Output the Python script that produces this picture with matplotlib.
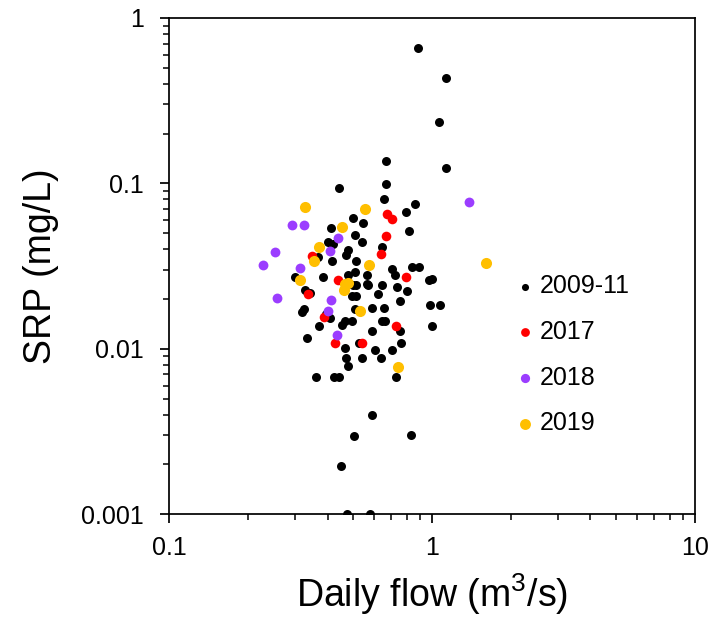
import matplotlib
matplotlib.use('Agg')
import matplotlib.pyplot as plt

plt.rcParams['font.family'] = ['Liberation Sans', 'DejaVu Sans']
plt.rcParams['mathtext.fontset'] = 'custom'
plt.rcParams['mathtext.rm'] = 'Liberation Sans'
plt.rcParams['mathtext.it'] = 'Liberation Sans'

# 2009-11 samples: daily flow (m3/s), SRP (mg/L)
flow_0911 = [0.887, 1.127, 1.064, 1.127, 0.670, 0.665, 0.444, 0.658, 0.860, 0.797,
             0.499, 0.545, 0.411, 0.815, 0.508, 0.542, 0.403, 0.421, 0.643, 0.478,
             0.470, 0.415, 0.513, 0.369, 0.702, 0.722, 0.835, 0.894, 0.385, 0.480,
             0.508, 0.563, 0.996, 0.975, 0.301, 0.328, 0.342, 0.500, 0.515, 0.563,
             0.570, 0.643, 0.732, 0.800, 0.494, 0.515, 0.620, 0.755, 0.982, 1.072,
             0.326, 0.320, 0.395, 0.410, 0.508, 0.588, 0.658, 0.662, 0.643, 0.465,
             0.494, 0.452, 0.371, 0.755, 1.000, 0.590, 0.333, 0.525, 0.764, 0.465,
             0.472, 0.480, 0.606, 0.637, 0.705, 0.542, 0.727, 0.363, 0.424, 0.442,
             0.589, 0.506, 0.833, 0.448, 0.476, 0.580]
srp_0911 = [0.658, 0.435, 0.236, 0.124, 0.136, 0.099, 0.094, 0.081, 0.075, 0.0675,
            0.062, 0.058, 0.0535, 0.0516, 0.049, 0.0445, 0.0445, 0.043, 0.0415, 0.0396,
            0.037, 0.034, 0.034, 0.036, 0.0304, 0.0281, 0.0313, 0.0313, 0.0273, 0.028,
            0.029, 0.028, 0.0265, 0.0262, 0.0273, 0.0228, 0.0218, 0.0244, 0.0244, 0.0248,
            0.0244, 0.0244, 0.0236, 0.0225, 0.0208, 0.0208, 0.0215, 0.0195, 0.0185, 0.0185,
            0.0173, 0.0166, 0.0162, 0.0153, 0.0175, 0.0177, 0.0177, 0.0148, 0.0148, 0.0148,
            0.0148, 0.014, 0.0137, 0.0128, 0.0137, 0.0128, 0.0116, 0.0109, 0.0109, 0.0101,
            0.0088, 0.00785, 0.0099, 0.0088, 0.0099, 0.0088, 0.0068, 0.0068, 0.0068, 0.0068,
            0.00396, 0.00298, 0.003, 0.00197, 0.001, 0.001]

flow_2017 = [0.675, 0.705, 0.665, 0.637, 0.350, 0.792, 0.437, 0.336, 0.389, 0.727, 0.426, 0.542]
srp_2017 = [0.0652, 0.0608, 0.0482, 0.0373, 0.0365, 0.027, 0.026, 0.0215, 0.0155, 0.0137, 0.0109, 0.0109]

flow_2018 = [1.377, 0.292, 0.325, 0.440, 0.407, 0.253, 0.228, 0.313, 0.256, 0.412, 0.403, 0.433]
srp_2018 = [0.077, 0.0561, 0.0561, 0.047, 0.0393, 0.0386, 0.0323, 0.0307, 0.0202, 0.0198, 0.0169, 0.0121]

flow_2019 = [0.328, 0.554, 0.455, 0.372, 0.356, 0.575, 1.604, 0.314, 0.466, 0.480, 0.460, 0.531, 0.743]
srp_2019 = [0.0721, 0.0698, 0.0542, 0.0415, 0.034, 0.0323, 0.033, 0.0262, 0.0247, 0.025, 0.0228, 0.017, 0.00774]

x_ticks = [0.1, 1, 10]
x_labels = ['0.1', '1', '10']
y_ticks = [0.001, 0.01, 0.1, 1]
y_labels = ['0.001', '0.01', '0.1', '1']

fig = plt.figure(figsize=(7.19, 6.18), dpi=100)
ax = fig.add_axes([0.2355, 0.1678, 0.7311, 0.8031])

ax.scatter(flow_0911, srp_0911, s=42, color='black', linewidths=0, label='2009-11', zorder=2)
ax.scatter(flow_2017, srp_2017, s=48, color='#FF0000', linewidths=0, label='2017', zorder=3)
ax.scatter(flow_2018, srp_2018, s=50, color='#9B3DFF', linewidths=0, label='2018', zorder=3)
ax.scatter(flow_2019, srp_2019, s=64, color='#FFBF00', linewidths=0, label='2019', zorder=4)

ax.set_xscale('log')
ax.set_yscale('log')
ax.set_xlim(0.1, 10)
ax.set_ylim(0.001, 1)
ax.set_xticks(x_ticks, x_labels)
ax.set_yticks(y_ticks, y_labels)
ax.yaxis.set_minor_formatter(matplotlib.ticker.NullFormatter())
ax.xaxis.set_minor_formatter(matplotlib.ticker.NullFormatter())

for sp in ax.spines.values():
    sp.set_linewidth(1.25)
ax.tick_params(which='major', direction='out', length=6.5, width=1.25, labelsize=18)
ax.tick_params(which='minor', direction='out', length=4, width=1.1)
ax.tick_params(axis='x', which='major', pad=9)
ax.tick_params(axis='y', which='major', pad=12)

ax.set_xlabel('Daily flow (m$^\\mathregular{3}$/s)', fontsize=27, labelpad=8)
ax.set_ylabel('SRP (mg/L)', fontsize=27, labelpad=16)

leg = ax.legend(loc='upper left', bbox_to_anchor=(0.665, 0.484), frameon=False, fontsize=18,
                handlelength=0.5, handletextpad=0.32, labelspacing=0.87,
                borderpad=0, borderaxespad=0, scatterpoints=1)
for h, sz in zip(leg.legend_handles, [26, 40, 44, 62]):
    h.set_sizes([sz])

fig.savefig('out.png', dpi=100)
